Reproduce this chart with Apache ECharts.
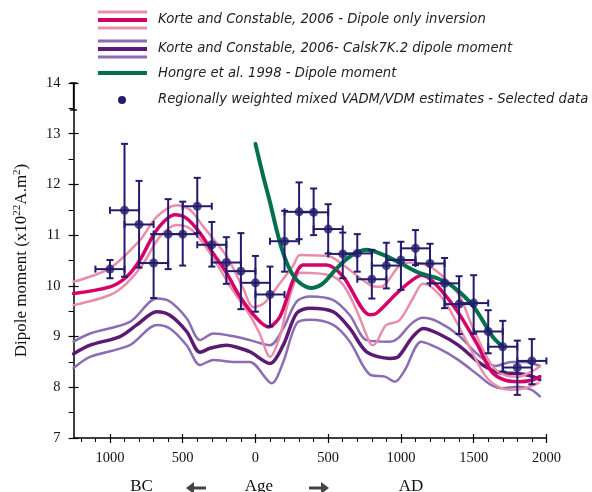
<!DOCTYPE html>
<html><head><meta charset="utf-8">
<script src="https://cdn.jsdelivr.net/npm/echarts@6/dist/echarts.min.js"></script>
<style>html,body{margin:0;padding:0;background:#fff}#c{width:592px;height:492px}</style>
</head><body><div id="c"></div>
<script>
// ---- data (year, dipole moment x10^22 A.m^2) ----
const dipoleOnly = [[-1250,9.85],[-1000,9.98],[-885,10.18],[-794,10.51],[-679,11.10],[-553,11.40],[-473,11.33],[-381,11.04],[-290,10.64],[-198,10.25],[-107,9.79],[8,9.36],[88,9.19],[168,9.39],[260,10.12],[329,10.41],[489,10.41],[603,10.18],[787,9.43],[833,9.46],[970,9.85],[1062,10.08],[1142,10.21],[1222,10.08],[1383,9.52],[1520,8.87],[1623,8.31],[1715,8.14],[1806,8.11],[1898,8.14],[1955,8.21]];
const dipoleOnlyUpper = [[-1250,10.08],[-1000,10.35],[-794,10.90],[-679,11.36],[-542,11.59],[-450,11.50],[-359,11.17],[-198,10.58],[-84,9.95],[-15,9.58],[60,9.66],[168,10.05],[260,10.40],[306,10.61],[512,10.58],[603,10.41],[787,10.02],[860,9.98],[993,10.41],[1062,10.46],[1177,10.41],[1291,10.18],[1405,9.79],[1486,9.23],[1623,8.44],[1715,8.24],[1806,8.21],[1898,8.31],[1955,8.41]];
const dipoleOnlyLower = [[-1250,9.62],[-1000,9.82],[-885,10.05],[-771,10.44],[-657,10.97],[-542,11.20],[-450,11.13],[-359,10.84],[-267,10.44],[-153,9.90],[-38,9.42],[30,9.05],[100,8.60],[168,9.00],[214,9.56],[260,10.00],[306,10.26],[512,10.21],[603,10.02],[695,9.52],[787,8.87],[810,8.83],[896,9.22],[989,9.32],[1082,9.75],[1150,10.04],[1200,10.00],[1302,9.69],[1440,8.97],[1577,8.24],[1669,8.01],[1761,7.95],[1852,7.98],[1944,8.08]];
const calskCenter = [[-1250,8.66],[-1137,8.83],[-931,9.00],[-816,9.23],[-679,9.49],[-588,9.42],[-473,9.10],[-381,8.69],[-313,8.77],[-198,8.83],[-141,8.80],[-38,8.70],[100,8.47],[191,8.83],[283,9.46],[375,9.56],[535,9.49],[649,9.16],[764,8.70],[924,8.57],[981,8.60],[1074,8.97],[1153,9.16],[1256,9.06],[1394,8.83],[1531,8.50],[1623,8.34],[1692,8.28],[1806,8.27],[1898,8.22],[1955,8.15]];
const calskUpper = [[-1250,8.90],[-1137,9.06],[-863,9.29],[-679,9.75],[-588,9.69],[-473,9.36],[-381,8.93],[-290,9.06],[-141,9.00],[-38,8.93],[100,8.83],[191,9.16],[283,9.69],[375,9.79],[535,9.72],[649,9.42],[764,8.93],[924,8.90],[981,8.97],[1074,9.26],[1153,9.37],[1256,9.29],[1394,9.03],[1531,8.64],[1650,8.42],[1760,8.50],[1850,8.50],[1955,8.42]];
const calskLower = [[-1250,8.38],[-1137,8.60],[-863,8.83],[-679,9.23],[-588,9.16],[-473,8.83],[-381,8.44],[-290,8.54],[-141,8.50],[-38,8.50],[112,8.08],[191,8.50],[283,9.26],[375,9.33],[535,9.23],[649,8.90],[787,8.25],[890,8.21],[959,8.11],[1027,8.34],[1140,8.90],[1256,8.77],[1394,8.54],[1531,8.24],[1623,8.04],[1692,7.98],[1806,8.01],[1898,7.95],[1955,7.82]];
const hongre = [[0,12.80],[50,12.20],[100,11.65],[150,11.05],[190,10.65],[240,10.30],[300,10.07],[380,9.96],[460,10.04],[560,10.35],[650,10.58],[760,10.71],[880,10.61],[1000,10.44],[1130,10.25],[1250,10.15],[1360,9.98],[1500,9.59],[1630,9.00],[1700,8.80]];

const vadmYears  = [-1000,-900,-800,-700,-600,-500,-400,-300,-200,-100,0,100,200,300,400,500,600,700,800,900,1000,1100,1200,1300,1400,1500,1600,1700,1800,1900];
const vadmValues = [10.33,11.49,11.21,10.45,11.02,11.02,11.57,10.81,10.46,10.29,10.06,9.83,10.88,11.46,11.45,11.12,10.63,10.64,10.13,10.40,10.51,10.74,10.44,10.05,9.64,9.66,9.10,8.80,8.39,8.52];
const vadmLow    = [10.15,10.18,10.36,9.76,10.33,10.40,11.04,10.38,10.04,9.54,9.49,9.20,10.28,10.92,11.00,10.64,10.15,10.28,9.75,9.95,9.92,10.41,10.05,9.56,9.05,9.06,8.67,8.31,7.85,8.06];
const vadmHigh   = [10.51,12.80,12.07,11.02,11.71,11.66,12.13,11.26,10.96,11.04,10.59,10.38,11.48,12.04,11.92,11.61,11.05,11.02,10.71,10.85,10.87,11.10,10.83,10.55,10.19,10.21,9.52,9.31,8.92,8.95];
const vadmXErr   = [100,100,100,100,100,100,100,100,100,100,100,100,100,100,100,100,100,100,100,100,100,100,100,100,100,100,100,100,100,100];

const xMajorTicks = [-1000,-500,0,500,1000,1500,2000];
const xMinorTicks = [-1200,-1100,-1000,-900,-800,-700,-600,-500,-400,-300,-200,-100,0,100,200,300,400,500,600,700,800,900,1000,1100,1200,1300,1400,1500,1600,1700,1800,1900,2000];

const C = {
  pinkLight:'#E98DAB', magenta:'#D5006A', purpleLight:'#8A6DB2', purpleDark:'#5D1A72', green:'#00704E', navy:'#231B6B'
};
const SERIF = '"Liberation Serif","Times New Roman",serif';
const SANS = '"DejaVu Sans",Verdana,sans-serif';

const chart = echarts.init(document.getElementById('c'), null, {renderer:'canvas'});

function line(data, color, width, z){
  return {type:'line', data, smooth:0.3, symbol:'none', showSymbol:false, silent:true,
    lineStyle:{color, width, cap:'round', join:'round'}, z, animation:false};
}

const errData = vadmYears.map((y,i)=>[y, vadmValues[i], vadmLow[i], vadmHigh[i], vadmXErr[i]]);

const option = {
  animation:false,
  grid:{left:73.6, right:45.6, top:83, bottom:54, containLabel:false},
  xAxis:[
    {type:'value', min:-1250, max:2000, position:'bottom',
     axisLine:{show:true, onZero:false, lineStyle:{color:'#000', width:1.5}},
     axisTick:{show:true, customValues:xMajorTicks, length:5, inside:false, lineStyle:{color:'#000', width:1.2}},
     axisLabel:{show:true, customValues:xMajorTicks, margin:13, color:'#111', fontFamily:SERIF, fontSize:14.5,
       formatter:v=>String(Math.abs(v))},
     splitLine:{show:false}},
    {type:'value', min:-1250, max:2000, position:'bottom',
     axisLine:{show:false, onZero:false}, axisLabel:{show:false}, splitLine:{show:false},
     axisTick:{show:true, customValues:xMinorTicks, length:4, inside:false, lineStyle:{color:'#000', width:1}}},
    {type:'value', min:-1250, max:2000, position:'bottom',
     axisLine:{show:false, onZero:false}, axisLabel:{show:false}, splitLine:{show:false},
     axisTick:{show:true, customValues:xMajorTicks, length:4, inside:true, lineStyle:{color:'#000', width:1.2}}}
  ],
  yAxis:[
    {type:'value', min:7, max:14, interval:1, position:'left',
     axisLine:{show:true, onZero:false, lineStyle:{color:'#000', width:1.5}},
     axisTick:{show:true, length:5, inside:false, lineStyle:{color:'#000', width:1.2}},
     minorTick:{show:true, splitNumber:2, length:5, lineStyle:{color:'#000', width:1}},
     axisLabel:{margin:13, color:'#111', fontFamily:SERIF, fontSize:14.5},
     splitLine:{show:false},
     name:'{a|Dipole moment (x10}{s|22}{a|A.m}{s|2}{a|)}',
     nameLocation:'middle', nameGap:42, nameRotate:90,
     nameTextStyle:{rich:{
       a:{fontFamily:SERIF, fontSize:17, color:'#111', lineHeight:20},
       s:{fontFamily:SERIF, fontSize:11, color:'#111', verticalAlign:'top', lineHeight:20}
     }}},
    {type:'value', min:7, max:14, interval:1, position:'left',
     axisLine:{show:false, onZero:false}, axisLabel:{show:false}, splitLine:{show:false},
     axisTick:{show:true, length:5, inside:true, lineStyle:{color:'#000', width:1.2}}}
  ],
  series:[
    line(calskUpper, C.purpleLight, 2.5, 2),
    line(calskLower, C.purpleLight, 2.5, 2),
    line(calskCenter, C.purpleDark, 3.5, 3),
    line(dipoleOnlyUpper, C.pinkLight, 2.5, 4),
    line(dipoleOnlyLower, C.pinkLight, 2.5, 4),
    line(dipoleOnly, C.magenta, 3.5, 5),
    line(hongre, C.green, 4, 6),
    {type:'custom', z:7, silent:true, data:errData, encode:{x:0, y:1},
     renderItem:(params, api)=>{
       const x=api.value(0), y=api.value(1), lo=api.value(2), hi=api.value(3), xe=api.value(4);
       const pl=api.coord([x,lo]), ph=api.coord([x,hi]), xl=api.coord([x-xe,y]), xr=api.coord([x+xe,y]);
       const st={stroke:C.navy, lineWidth:2};
       const cap=3.5;
       return {type:'group', children:[
         {type:'line', shape:{x1:pl[0],y1:pl[1],x2:ph[0],y2:ph[1]}, style:st},
         {type:'line', shape:{x1:pl[0]-cap,y1:pl[1],x2:pl[0]+cap,y2:pl[1]}, style:st},
         {type:'line', shape:{x1:ph[0]-cap,y1:ph[1],x2:ph[0]+cap,y2:ph[1]}, style:st},
         {type:'line', shape:{x1:xl[0],y1:xl[1],x2:xr[0],y2:xr[1]}, style:st},
         {type:'line', shape:{x1:xl[0],y1:xl[1]-cap,x2:xl[0],y2:xl[1]+cap}, style:st},
         {type:'line', shape:{x1:xr[0],y1:xr[1]-cap,x2:xr[0],y2:xr[1]+cap}, style:st}
       ]};
     }},
    {type:'scatter', z:8, silent:true, data:vadmYears.map((y,i)=>[y,vadmValues[i]]),
     symbol:'circle', symbolSize:9, itemStyle:{color:C.navy}}
  ],
  graphic:[
    // legend entry 1
    {type:'line', shape:{x1:98,y1:12,x2:147,y2:12}, style:{stroke:C.pinkLight, lineWidth:3}},
    {type:'line', shape:{x1:98,y1:20,x2:147,y2:20}, style:{stroke:C.magenta, lineWidth:4}},
    {type:'line', shape:{x1:98,y1:28,x2:147,y2:28}, style:{stroke:C.pinkLight, lineWidth:3}},
    {type:'text', x:158, y:19.5, style:{text:'Korte and Constable, 2006 - Dipole only inversion', font:'italic 13.2px '+SANS, fill:'#222', verticalAlign:'middle'}},
    // legend entry 2
    {type:'line', shape:{x1:98,y1:41,x2:147,y2:41}, style:{stroke:C.purpleLight, lineWidth:3}},
    {type:'line', shape:{x1:98,y1:49,x2:147,y2:49}, style:{stroke:C.purpleDark, lineWidth:4}},
    {type:'line', shape:{x1:98,y1:57,x2:147,y2:57}, style:{stroke:C.purpleLight, lineWidth:3}},
    {type:'text', x:158, y:48.5, style:{text:'Korte and Constable, 2006- Calsk7K.2 dipole moment', font:'italic 13.2px '+SANS, fill:'#222', verticalAlign:'middle'}},
    // legend entry 3
    {type:'line', shape:{x1:98,y1:73,x2:147,y2:73}, style:{stroke:C.green, lineWidth:4}},
    {type:'text', x:158, y:73.3, style:{text:'Hongre et al. 1998 - Dipole moment', font:'italic 13.2px '+SANS, fill:'#222', verticalAlign:'middle'}},
    // legend entry 4
    {type:'circle', shape:{cx:122, cy:100, r:4}, style:{fill:C.navy}},
    {type:'text', x:158, y:100, style:{text:'Regionally weighted mixed VADM/VDM estimates - Selected data', font:'italic 13.2px '+SANS, fill:'#222', verticalAlign:'middle'}},
    // error bar symbol
    {type:'line', shape:{x1:73.6,y1:83,x2:73.6,y2:110}, style:{stroke:'#111', lineWidth:1.5}},
    {type:'line', shape:{x1:70,y1:110,x2:77,y2:110}, style:{stroke:'#111', lineWidth:1.5}},
    {type:'line', shape:{x1:70,y1:83,x2:77,y2:83}, style:{stroke:'#111', lineWidth:1.5}},
    // bottom labels
    {type:'text', x:141.5, y:487, style:{text:'BC', font:'17px '+SERIF, fill:'#111', align:'center', verticalAlign:'middle'}},
    {type:'text', x:259, y:487, style:{text:'Age', font:'17px '+SERIF, fill:'#111', align:'center', verticalAlign:'middle'}},
    {type:'text', x:411, y:487, style:{text:'AD', font:'17px '+SERIF, fill:'#111', align:'center', verticalAlign:'middle'}},
    {type:'polygon', shape:{points:[[186,488],[194,482],[194,486.5],[206,486.5],[206,489.5],[194,489.5],[194,494]]}, style:{fill:'#444'}},
    {type:'polygon', shape:{points:[[329,488],[321,482],[321,486.5],[309,486.5],[309,489.5],[321,489.5],[321,494]]}, style:{fill:'#444'}}
  ]
};
chart.setOption(option);
</script></body></html>
